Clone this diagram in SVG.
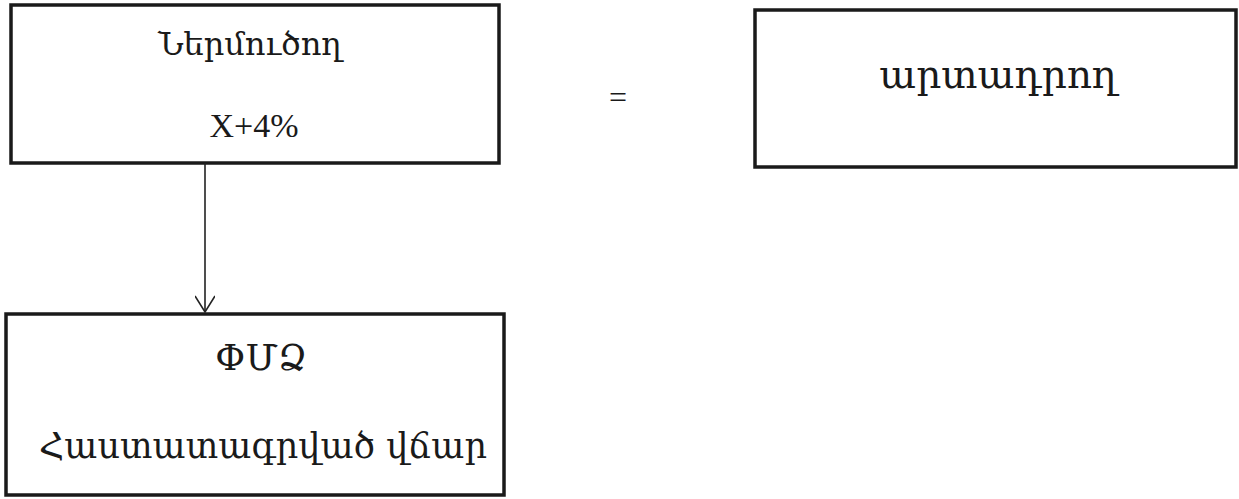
<svg xmlns="http://www.w3.org/2000/svg" width="1239" height="499" viewBox="0 0 1239 499">
<style>
.box{fill:#fff;stroke:#1a1a1a;stroke-width:3.5}
.t{font-family:"DejaVu Serif","Liberation Serif",serif;fill:#1a1a1a;text-anchor:middle}
.lat{font-family:"Liberation Serif",serif;fill:#1a1a1a;text-anchor:middle}
.conn{stroke:#222;stroke-width:1.6;fill:none}
</style>
<defs>
<marker id="arr" markerWidth="24" markerHeight="20" refX="20" refY="10" orient="auto" markerUnits="userSpaceOnUse">
<path d="M4,0 L20,10 L4,20" fill="none" stroke="#222" stroke-width="1.6"/>
</marker>
</defs>
<rect width="1239" height="499" fill="#fff"/>
<g id="importer">
<rect class="box" x="11" y="5" width="488" height="158"/>
<text class="t" x="250" y="55" font-size="32">Ներմուծող</text>
<text class="lat" x="254" y="137" font-size="34">X+4%</text>
</g>
<g id="producer">
<rect class="box" x="755" y="10" width="481" height="157"/>
<text class="t" x="998" y="88" font-size="39">արտադրող</text>
</g>
<g id="sme">
<rect class="box" x="6" y="314" width="498" height="181"/>
<text class="t" x="261" y="370" font-size="36">ՓՄՁ</text>
<text class="t" x="263" y="458" font-size="35">Հաստատագրված վճար</text>
</g>
<g id="equals">
<text class="lat" x="618" y="108" font-size="32">=</text>
</g>
<g id="connectors">
<line class="conn" x1="205" y1="163" x2="205" y2="312" marker-end="url(#arr)"/>
</g>
</svg>
